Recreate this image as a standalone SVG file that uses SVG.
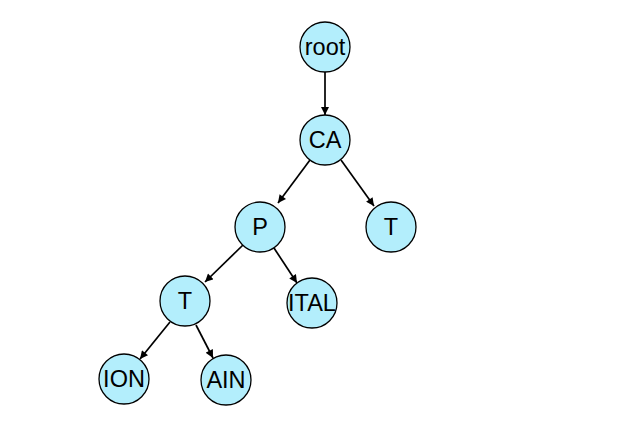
<svg xmlns="http://www.w3.org/2000/svg" width="630" height="429" viewBox="0 0 630 429">
  <style>
    .node circle { fill: #b3eefc; stroke: #000; stroke-width: 1.3; }
    .node text { font-family: "Liberation Sans", Arial, sans-serif; font-size: 23.5px; fill: #000; text-anchor: middle; dominant-baseline: central; }
    .edge { stroke: #000; stroke-width: 1.7; fill: none; marker-end: url(#arrow); }
  </style>
  <defs>
    <marker id="arrow" viewBox="0 0 10 10" refX="10" refY="5" markerWidth="9" markerHeight="8" markerUnits="userSpaceOnUse" orient="auto">
      <path d="M0,0 L10,5 L0,10 z" fill="#000"/>
    </marker>
  </defs>
  <rect width="630" height="429" fill="#fff"/>
  <g id="connectors">
    <line class="edge" x1="325" y1="72" x2="325" y2="115"/>
    <line class="edge" x1="310" y1="160" x2="278" y2="203"/>
    <line class="edge" x1="341" y1="160" x2="374" y2="206"/>
    <line class="edge" x1="243" y1="245" x2="205" y2="282"/>
    <line class="edge" x1="274" y1="248" x2="297" y2="283"/>
    <line class="edge" x1="170" y1="322" x2="140" y2="359"/>
    <line class="edge" x1="196" y1="325" x2="213" y2="358"/>
  </g>
  <g id="node-root" class="node"><circle cx="325" cy="47" r="25"/><text x="325" y="47">root</text></g>
  <g id="node-CA" class="node"><circle cx="325" cy="140" r="25"/><text x="325" y="140">CA</text></g>
  <g id="node-P" class="node"><circle cx="260" cy="227" r="25"/><text x="260" y="227">P</text></g>
  <g id="node-T1" class="node"><circle cx="391" cy="227" r="25"/><text x="391" y="227">T</text></g>
  <g id="node-T2" class="node"><circle cx="185" cy="301" r="25"/><text x="185" y="301">T</text></g>
  <g id="node-ITAL" class="node"><circle cx="312" cy="303" r="25"/><text x="312" y="303">ITAL</text></g>
  <g id="node-ION" class="node"><circle cx="124" cy="379" r="25"/><text x="124" y="379">ION</text></g>
  <g id="node-AIN" class="node"><circle cx="226" cy="380" r="25"/><text x="226" y="380">AIN</text></g>
</svg>
